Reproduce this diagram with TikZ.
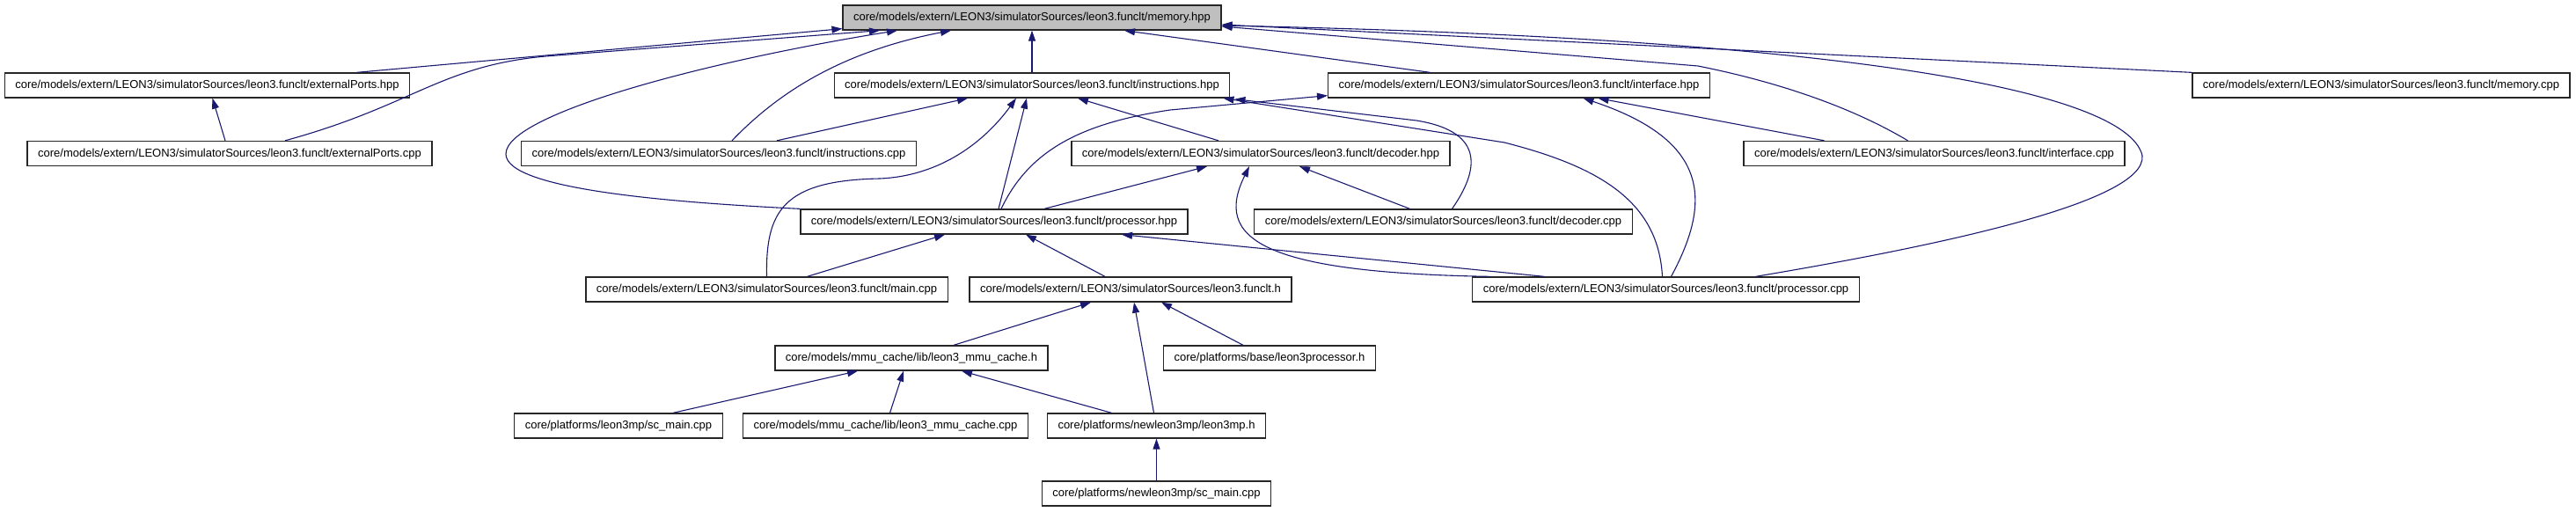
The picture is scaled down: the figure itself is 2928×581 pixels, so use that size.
\documentclass[tikz,border=0pt]{standalone}
\usepackage{fontspec}
\setmainfont{Liberation Sans}
\usepackage{tikz}
\usetikzlibrary{arrows.meta}
\definecolor{edgeblue}{RGB}{25,25,112}
\definecolor{focusgray}{RGB}{191,191,191}

\begin{document}
\begin{tikzpicture}[x=1pt, y=-1pt,
  file/.style={rectangle, draw=black!85, fill=white, line width=1.3pt,
               minimum height=28pt, inner xsep=12pt, inner ysep=0pt,
               text height=9.5pt, text depth=2.5pt,
               font=\fontsize{13}{15}\selectfont},
  focus/.style={file, fill=focusgray},
  inc/.style={-{Triangle[length=12pt, width=8pt]}, edgeblue, line width=1.1pt},
]
\useasboundingbox (0,0) rectangle (2928,581);

% Fila 0
\node[focus] at (1173,20)   (memory_hpp)    {core/models/extern/LEON3/simulatorSources/leon3.funclt/memory.hpp};

% Fila 1
\node[file]  at (235.5,97)  (extports_hpp)  {core/models/extern/LEON3/simulatorSources/leon3.funclt/externalPorts.hpp};
\node[file]  at (1173,97)   (instr_hpp)     {core/models/extern/LEON3/simulatorSources/leon3.funclt/instructions.hpp};
\node[file]  at (1726.5,97) (iface_hpp)     {core/models/extern/LEON3/simulatorSources/leon3.funclt/interface.hpp};
\node[file]  at (2706.5,97) (memory_cpp)    {core/models/extern/LEON3/simulatorSources/leon3.funclt/memory.cpp};

% Fila 2
\node[file]  at (261,174.5)    (extports_cpp) {core/models/extern/LEON3/simulatorSources/leon3.funclt/externalPorts.cpp};
\node[file]  at (817,174.5)    (instr_cpp)    {core/models/extern/LEON3/simulatorSources/leon3.funclt/instructions.cpp};
\node[file]  at (1433,174.5)   (decoder_hpp)  {core/models/extern/LEON3/simulatorSources/leon3.funclt/decoder.hpp};
\node[file]  at (2198.5,174.5) (iface_cpp)    {core/models/extern/LEON3/simulatorSources/leon3.funclt/interface.cpp};

% Fila 3
\node[file]  at (1130,252)   (processor_hpp) {core/models/extern/LEON3/simulatorSources/leon3.funclt/processor.hpp};
\node[file]  at (1640.5,252) (decoder_cpp)   {core/models/extern/LEON3/simulatorSources/leon3.funclt/decoder.cpp};

% Fila 4
\node[file]  at (871.5,329)  (main_cpp)      {core/models/extern/LEON3/simulatorSources/leon3.funclt/main.cpp};
\node[file]  at (1285,329)   (funclt_h)      {core/models/extern/LEON3/simulatorSources/leon3.funclt.h};
\node[file]  at (1893.5,329) (processor_cpp) {core/models/extern/LEON3/simulatorSources/leon3.funclt/processor.cpp};

% Filas 5 a 7
\node[file]  at (1036,407)   (mmu_cache_h)      {core/models/mmu\_cache/lib/leon3\_mmu\_cache.h};
\node[file]  at (1443,407)   (leon3processor_h) {core/platforms/base/leon3processor.h};
\node[file]  at (703,484)    (sc_main_cpp)      {core/platforms/leon3mp/sc\_main.cpp};
\node[file]  at (1006.5,484) (mmu_cache_cpp)    {core/models/mmu\_cache/lib/leon3\_mmu\_cache.cpp};
\node[file]  at (1314.5,484) (leon3mp_h)        {core/platforms/newleon3mp/leon3mp.h};
\node[file]  at (1314.5,561) (new_sc_main_cpp)  {core/platforms/newleon3mp/sc\_main.cpp};

% Flechas hacia memory.hpp
\draw[inc] ([xshift=170pt]extports_hpp.north) -- ([yshift=2pt]memory_hpp.south west);
\draw[inc] ([xshift=63pt]extports_cpp.north) .. controls (470,120) and (500,75) .. (620,64)
           -- ([xshift=-173pt]memory_hpp.south);
\draw[inc] (processor_hpp.north west) .. controls (760,230) and (575,215) .. (575,175)
           .. controls (575,130) and (800,70) .. ([xshift=-153pt]memory_hpp.south);
\draw[inc] ([xshift=15pt]instr_cpp.north) .. controls (880,110) and (950,60) .. ([xshift=-92pt]memory_hpp.south);
\draw[inc] (instr_hpp.north) -- (memory_hpp.south);
\draw[inc] ([xshift=-101pt]iface_hpp.north) -- ([xshift=105pt]memory_hpp.south);
\draw[inc] (memory_cpp.north west) -- ([yshift=-8pt]memory_hpp.east);
\draw[inc] ([xshift=-30pt]iface_cpp.north) .. controls (2110,125) and (2030,95) .. (1930,75)
           -- ([yshift=-10pt]memory_hpp.east);
\draw[inc] ([xshift=102pt]processor_cpp.north) .. controls (2200,280) and (2440,230) .. (2435,177)
           .. controls (2420,110) and (2150,45) .. ([yshift=-9pt]memory_hpp.east);

% Flechas hacia externalPorts.hpp
\draw[inc] ([xshift=-5pt]extports_cpp.north) -- ([xshift=6pt]extports_hpp.south);

% Flechas hacia instructions.hpp
\draw[inc] ([xshift=66pt]instr_cpp.north) -- ([xshift=-73pt]instr_hpp.south);
\draw[inc] ([xshift=5pt]processor_hpp.north) -- ([xshift=-6pt]instr_hpp.south);
\draw[inc] (main_cpp.north) .. controls (870,240) and (890,205) .. (1000,203)
           .. controls (1070,200) and (1120,160) .. ([xshift=-18pt]instr_hpp.south);
\draw[inc] ([xshift=-48pt]decoder_hpp.north) -- ([xshift=52pt]instr_hpp.south);
\draw[inc] ([xshift=10pt]decoder_cpp.north) .. controls (1680,195) and (1690,150) .. (1610,137)
           -- ([xshift=5pt,yshift=-1pt]instr_hpp.south east);
\draw[inc] ([xshift=-4pt]processor_cpp.north) .. controls (1885,230) and (1820,190) .. (1710,162)
           -- ([xshift=-8pt]instr_hpp.south east);

% Flechas hacia interface.hpp
\draw[inc] ([xshift=8pt]processor_hpp.north) .. controls (1170,170) and (1230,140) .. (1330,125)
           -- ([yshift=3pt]iface_hpp.south west);
\draw[inc] ([xshift=-125pt]iface_cpp.north) -- ([xshift=90pt]iface_hpp.south);
\draw[inc] ([xshift=6pt]processor_cpp.north) .. controls (1945,230) and (1945,160) .. ([xshift=73pt]iface_hpp.south);

% Flechas hacia decoder.hpp
\draw[inc] ([xshift=57pt]processor_hpp.north) -- ([xshift=-61pt]decoder_hpp.south);
\draw[inc] ([xshift=-38pt]decoder_cpp.north) -- ([xshift=44pt]decoder_hpp.south);
\draw[inc] ([xshift=-200pt]processor_cpp.north) .. controls (1430,310) and (1380,270) .. ([xshift=-13pt]decoder_hpp.south);

% Flechas hacia processor.hpp
\draw[inc] ([xshift=46pt]main_cpp.north) -- ([xshift=-56pt]processor_hpp.south);
\draw[inc] ([xshift=-29pt]funclt_h.north) -- ([xshift=36pt]processor_hpp.south);
\draw[inc] ([xshift=-138pt]processor_cpp.north) -- ([xshift=145pt]processor_hpp.south);

% Flechas hacia leon3.funclt.h
\draw[inc] ([xshift=48pt]mmu_cache_h.north) -- ([xshift=-45pt]funclt_h.south);
\draw[inc] ([xshift=-3pt]leon3mp_h.north) -- ([xshift=4pt]funclt_h.south);
\draw[inc] ([xshift=-30pt]leon3processor_h.north) -- ([xshift=35pt]funclt_h.south);

% Flechas hacia leon3_mmu_cache.h
\draw[inc] ([xshift=62pt]sc_main_cpp.north) -- ([xshift=-61pt]mmu_cache_h.south);
\draw[inc] ([xshift=5pt]mmu_cache_cpp.north) -- ([xshift=-9pt]mmu_cache_h.south);
\draw[inc] ([xshift=-51pt]leon3mp_h.north) -- ([xshift=57pt]mmu_cache_h.south);

% Flecha hacia leon3mp.h
\draw[inc] (new_sc_main_cpp.north) -- (leon3mp_h.south);

\end{tikzpicture}
\end{document}
